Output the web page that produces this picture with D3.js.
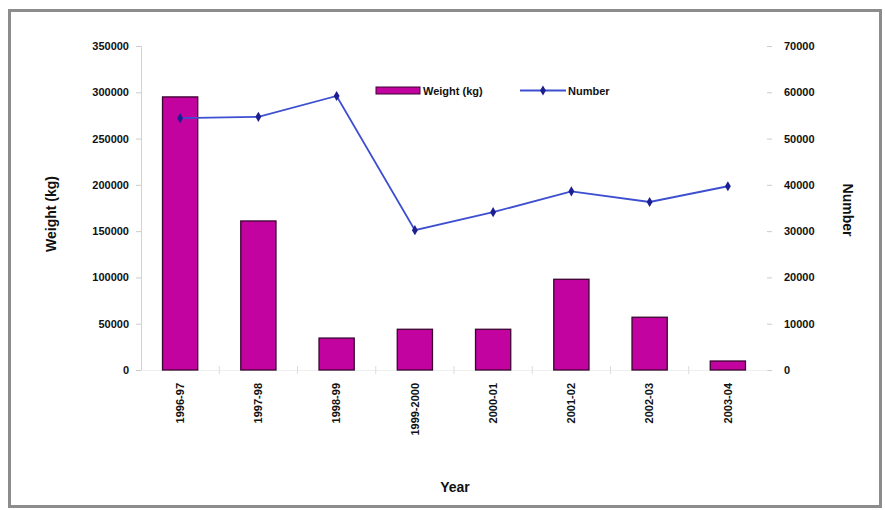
<!DOCTYPE html>
<html>
<head>
<meta charset="utf-8">
<script src="https://cdn.jsdelivr.net/npm/d3@7"></script>
<style>
  html, body { margin: 0; padding: 0; background: #fff; }
  svg { display: block; }
  text { font-family: "Liberation Sans", Arial, sans-serif; }
</style>
</head>
<body>
<svg id="chart" width="885" height="510"></svg>
<script>
// Seizures per season: weight (left axis, bars) and number (right axis, line)
const years = ["1996-97", "1997-98", "1998-99", "1999-2000", "2000-01", "2001-02", "2002-03", "2003-04"];
const weightKg = [295000, 161000, 34500, 44000, 44000, 98000, 57000, 9700];
const numbers = [54400, 54700, 59200, 30200, 34100, 38600, 36300, 39700];
const weightTicks = [0, 50000, 100000, 150000, 200000, 250000, 300000, 350000];
const numberTicks = [0, 10000, 20000, 30000, 40000, 50000, 60000, 70000];

const svg = d3.select("#chart");
const plot = { left: 141, right: 767, top: 46, bottom: 370 };

// outer frame
svg.append("rect")
  .attr("x", 9.5).attr("y", 10.5)
  .attr("width", 871).attr("height", 496)
  .attr("fill", "#fff")
  .attr("stroke", "#8c8c8c").attr("stroke-width", 3);

const x = d3.scaleBand().domain(years).range([plot.left, plot.right]).paddingInner(0.55).paddingOuter(0.275);
const yL = d3.scaleLinear().domain([0, 350000]).range([plot.bottom, plot.top]);
const yR = d3.scaleLinear().domain([0, 70000]).range([plot.bottom, plot.top]);

const tickFont = g => g.selectAll("text")
  .attr("font-size", 11).attr("font-weight", "bold").attr("fill", "#111");

// left axis
svg.append("g")
  .attr("transform", `translate(${plot.left},0)`)
  .call(d3.axisLeft(yL).tickValues(weightTicks).tickFormat(d3.format("d")).tickSize(5).tickPadding(7))
  .call(g => g.select(".domain").attr("stroke", "#e3c8d8"))
  .call(g => g.selectAll(".tick line").attr("stroke", "#ccc"))
  .call(tickFont);

// right axis
svg.append("g")
  .attr("transform", `translate(${plot.right},0)`)
  .call(d3.axisRight(yR).tickValues(numberTicks).tickFormat(d3.format("d")).tickSize(5).tickPadding(12))
  .call(g => g.select(".domain").remove())
  .call(g => g.selectAll(".tick line").attr("stroke", "#ccc"))
  .call(tickFont);

// bottom axis
const xAxis = svg.append("g")
  .attr("transform", `translate(0,${plot.bottom})`)
  .call(d3.axisBottom(x).tickSize(0).tickPadding(0))
  .call(g => g.select(".domain").attr("stroke", "#eee"));
xAxis.selectAll("text")
  .attr("font-size", 11).attr("font-weight", "bold").attr("fill", "#111")
  .attr("transform", "rotate(-90)")
  .attr("text-anchor", "end")
  .attr("dy", "0.35em")
  .attr("x", -13).attr("y", 0);

// separator ticks between categories
svg.append("g").selectAll("line")
  .data(years.slice(1))
  .join("line")
  .attr("x1", d => x(d) - x.step() * x.paddingInner() / 2)
  .attr("x2", d => x(d) - x.step() * x.paddingInner() / 2)
  .attr("y1", plot.bottom - 4).attr("y2", plot.bottom + 4)
  .attr("stroke", "#ddd");

// bars
svg.append("g").selectAll("rect")
  .data(years)
  .join("rect")
  .attr("x", d => x(d))
  .attr("width", x.bandwidth())
  .attr("y", (d, i) => yL(weightKg[i]))
  .attr("height", (d, i) => yL(0) - yL(weightKg[i]))
  .attr("fill", "#c2039f")
  .attr("stroke", "#3a0530").attr("stroke-width", 1.3);

// line
const cx = d => x(d) + x.bandwidth() / 2;
const line = d3.line().x((d, i) => cx(years[i])).y(d => yR(d));
svg.append("path")
  .datum(numbers)
  .attr("d", line)
  .attr("fill", "none")
  .attr("stroke", "#3d4fd0").attr("stroke-width", 1.8);

const diamond = d3.symbol().type(d3.symbolDiamond).size(30);
svg.append("g").selectAll("path")
  .data(numbers)
  .join("path")
  .attr("d", diamond)
  .attr("transform", (d, i) => `translate(${cx(years[i])},${yR(d)})`)
  .attr("fill", "#1b1f8f");

// axis titles
svg.append("text")
  .attr("transform", `translate(56,${(plot.top + plot.bottom) / 2 + 6}) rotate(-90)`)
  .attr("text-anchor", "middle")
  .attr("font-size", 14).attr("font-weight", "bold").attr("fill", "#111")
  .text("Weight (kg)");

svg.append("text")
  .attr("transform", `translate(843,${(plot.top + plot.bottom) / 2 + 2}) rotate(90)`)
  .attr("text-anchor", "middle")
  .attr("font-size", 14).attr("font-weight", "bold").attr("fill", "#111")
  .text("Number");

svg.append("text")
  .attr("x", 455).attr("y", 492)
  .attr("text-anchor", "middle")
  .attr("font-size", 14).attr("font-weight", "bold").attr("fill", "#111")
  .text("Year");

// legend
const lg = svg.append("g");
lg.append("rect")
  .attr("x", 376).attr("y", 87).attr("width", 44).attr("height", 7)
  .attr("fill", "#c2039f").attr("stroke", "#3a0530");
lg.append("text")
  .attr("x", 423).attr("y", 95)
  .attr("font-size", 11).attr("font-weight", "bold").attr("fill", "#111")
  .text("Weight (kg)");
lg.append("line")
  .attr("x1", 520).attr("x2", 566).attr("y1", 90.5).attr("y2", 90.5)
  .attr("stroke", "#3d4fd0").attr("stroke-width", 1.8);
lg.append("path")
  .attr("d", diamond)
  .attr("transform", "translate(543,90.5)")
  .attr("fill", "#1b1f8f");
lg.append("text")
  .attr("x", 568).attr("y", 95)
  .attr("font-size", 11).attr("font-weight", "bold").attr("fill", "#111")
  .text("Number");
</script>
</body>
</html>
